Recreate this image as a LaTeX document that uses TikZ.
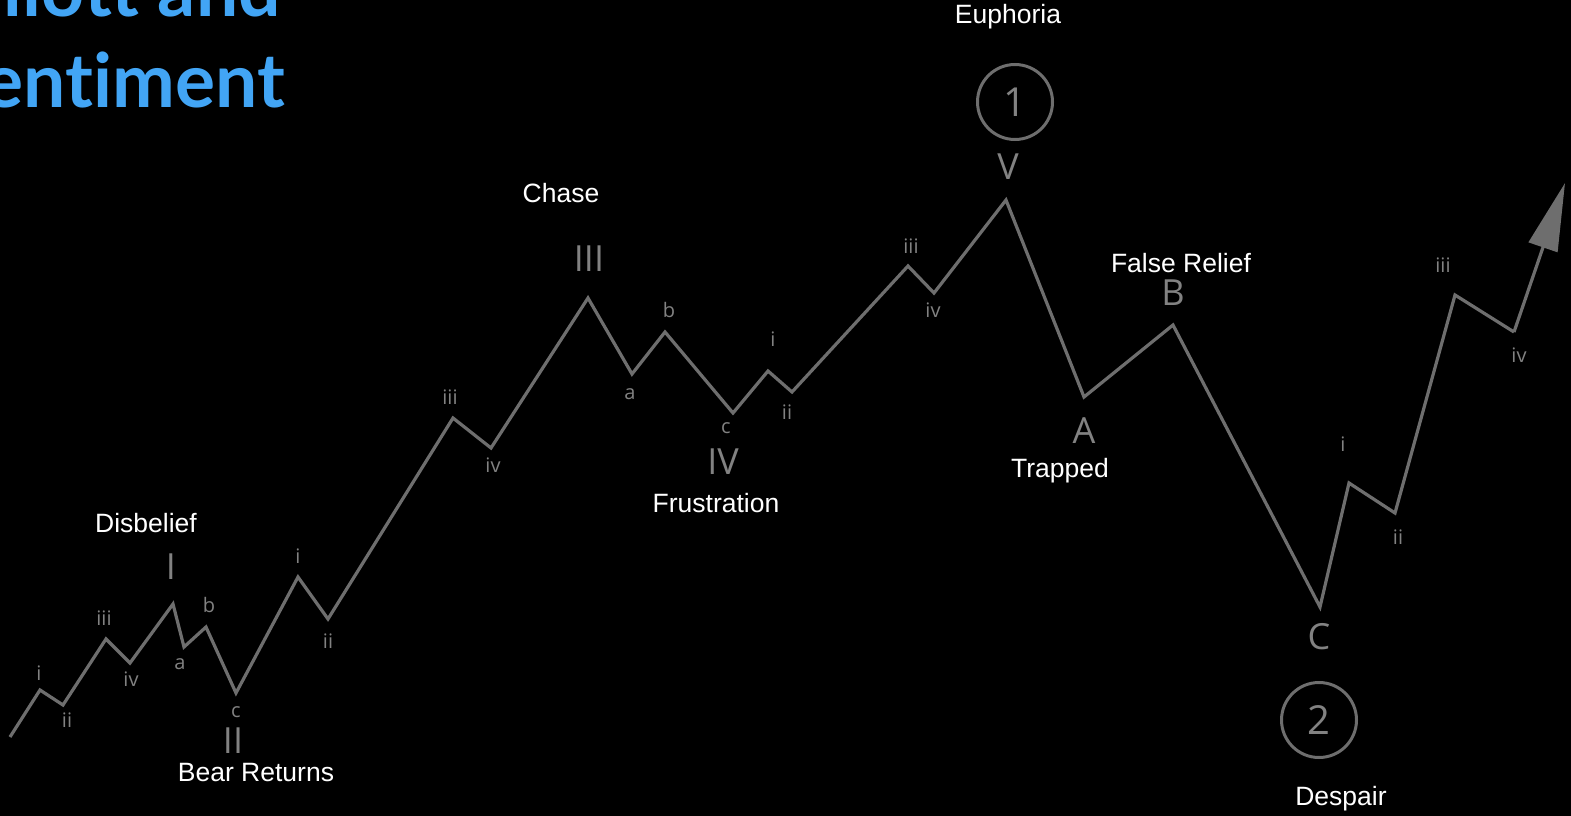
\documentclass[tikz,border=0pt]{standalone}
\usepackage{fontspec}
\setmainfont{Liberation Sans}
\newfontfamily\titlefont[Ligatures={NoCommon}]{Lato}
\newfontfamily\lblfont{Open Sans}
\usetikzlibrary{arrows.meta}
\definecolor{bgc}{RGB}{0,0,0}
\definecolor{titleblue}{RGB}{66,165,245}
\definecolor{wavegray}{RGB}{110,110,110}
\definecolor{lblgray}{RGB}{130,130,130}
\tikzset{
  wave/.style={draw=wavegray, line width=3.2pt, line join=miter},
  small/.style={text=lblgray, font=\lblfont\fontsize{20}{20}\selectfont, inner sep=0pt},
  big/.style={text=lblgray, font=\lblfont\fontsize{36}{36}\selectfont, inner sep=0pt},
  mood/.style={text=white, font=\fontsize{26.5}{26.5}\selectfont, inner sep=0pt},
  ring/.style={circle, draw=wavegray, line width=3pt, minimum size=75pt, inner sep=0pt, text=lblgray, font=\lblfont\fontsize{40}{40}\selectfont},
  ttl/.style={text=titleblue, font=\titlefont\bfseries\fontsize{75}{75}\selectfont, inner sep=0pt, anchor=base east}
}
\begin{document}
\begin{tikzpicture}[x=1pt,y=-1pt]
\useasboundingbox (0,0) rectangle (1571,816);
\fill[bgc] (0,0) rectangle (1571,816);
\clip (0,0) rectangle (1571,816);
% title
\node[ttl] (t1) at (281,17) {Elliott and};
\node[ttl] (t2) at (285,107) {Sentiment};
% wave points
\coordinate (p0) at (10,737);
\coordinate (p1) at (40,690);
\coordinate (p2) at (63,705);
\coordinate (p3) at (106,639);
\coordinate (p4) at (130,663);
\coordinate (p5) at (173,604);
\coordinate (p6) at (184,647);
\coordinate (p7) at (206,627);
\coordinate (p8) at (236,693);
\coordinate (p9) at (298,577);
\coordinate (p10) at (328,619);
\coordinate (p11) at (453,418);
\coordinate (p12) at (491,448);
\coordinate (p13) at (588,298);
\coordinate (p14) at (632,374);
\coordinate (p15) at (665,332);
\coordinate (p16) at (733,413);
\coordinate (p17) at (768,371);
\coordinate (p18) at (792,392);
\coordinate (p19) at (908,266);
\coordinate (p20) at (934,293);
\coordinate (p21) at (1006,200);
\coordinate (p22) at (1084,397);
\coordinate (p23) at (1173,325);
\coordinate (p24) at (1320,607);
\coordinate (p25) at (1349,483);
\coordinate (p26) at (1395,513);
\coordinate (p27) at (1455,295);
\coordinate (p28) at (1514,332);
\coordinate (tip) at (1565,183);
\draw[wave] (p0) -- (p1) -- (p2) -- (p3) -- (p4) -- (p5) -- (p6) -- (p7) -- (p8) -- (p9) -- (p10) -- (p11) -- (p12) -- (p13) -- (p14) -- (p15) -- (p16) -- (p17) -- (p18) -- (p19) -- (p20) -- (p21) -- (p22) -- (p23) -- (p24) -- (p25) -- (p26) -- (p27) -- (p28);
\draw[wave, -{Triangle[length=68pt,width=30pt]}, fill=wavegray] (p28) -- (tip);
% small labels
\node[small] (l1) at (39,673) {i};
\node[small] (l2) at (67,720) {ii};
\node[small] (l3) at (104,618) {iii};
\node[small] (l4) at (131,679) {iv};
\node[small] (l6) at (180,664) {a};
\node[small] (l7) at (209,605) {b};
\node[small] (l8) at (236,712) {c};
\node[small] (l9) at (298,556) {i};
\node[small] (l10) at (328,641) {ii};
\node[small] (l11) at (450,397) {iii};
\node[small] (l12) at (493,465) {iv};
\node[small] (l14) at (630,394) {a};
\node[small] (l15) at (669,310) {b};
\node[small] (l16) at (726,428) {c};
\node[small] (l17) at (773,339) {i};
\node[small] (l18) at (787,412) {ii};
\node[small] (l19) at (911,246) {iii};
\node[small] (l20) at (933,310) {iv};
\node[small] (l25) at (1343,444) {i};
\node[small] (l26) at (1398,537) {ii};
\node[small] (l27) at (1443,265) {iii};
\node[small] (l28) at (1519,355) {iv};
% big labels
\node[big] (b1) at (171,567) {I};
\node[big] (b2) at (233,741) {II};
\node[big] (b3) at (589,259) {III};
\node[big] (b4) at (723,462) {IV};
\node[big] (b5) at (1008,167) {V};
\node[big] (bA) at (1084,431) {A};
\node[big] (bB) at (1173,293) {B};
\node[big] (bC) at (1319,637) {C};
% circles
\node[ring] (c1) at (1015,102) {1};
\node[ring] (c2) at (1319,720) {2};
% moods
\node[mood] (m1) at (1008,17) {Euphoria};
\node[mood] (m2) at (561,193) {Chase};
\node[mood] (m3) at (146,523) {Disbelief};
\node[mood] (m4) at (256,773) {Bear Returns};
\node[mood] (m5) at (716,503) {Frustration};
\node[mood] (m6) at (1060,471) {Trapped};
\node[mood] (m7) at (1181,263) {False Relief};
\node[mood] (m8) at (1341,799) {Despair};
\end{tikzpicture}
\end{document}
